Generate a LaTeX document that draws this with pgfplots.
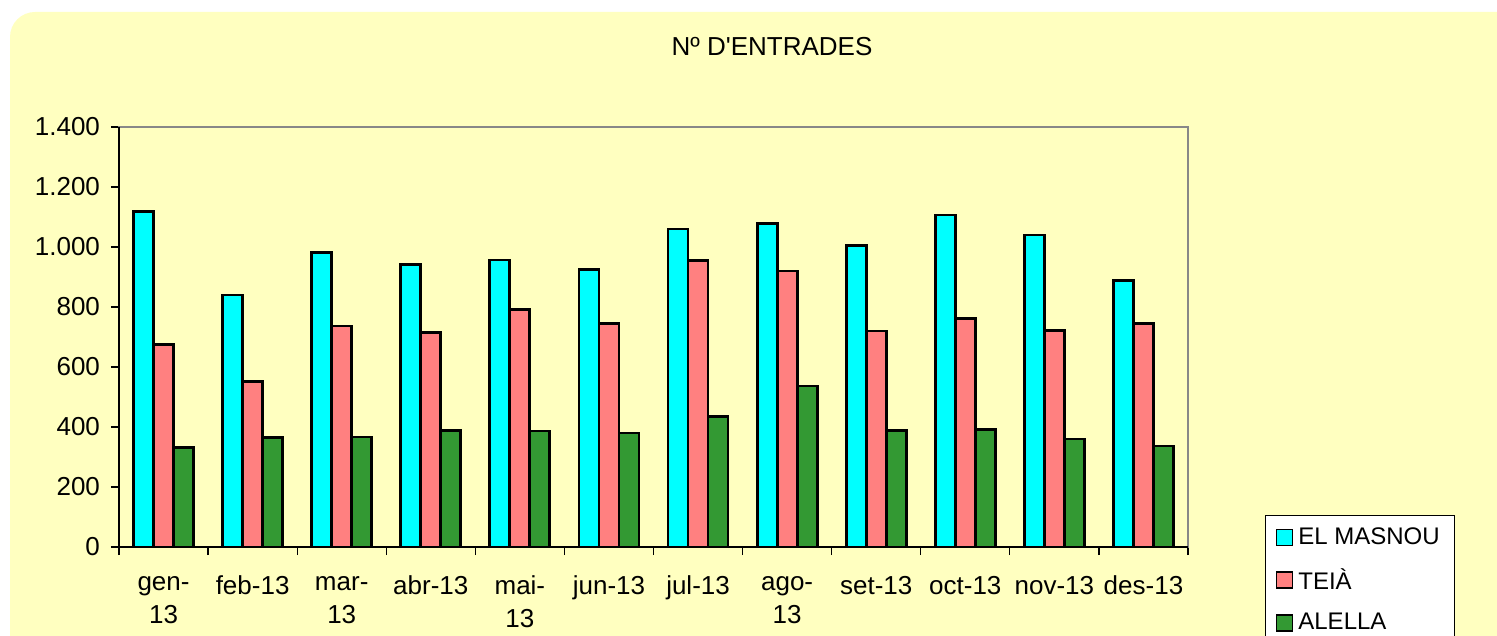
\documentclass[border=0pt]{standalone}
\usepackage{fontspec}
\setmainfont{Liberation Sans}
\usepackage{pgfplots}
\pgfplotsset{compat=1.18}
\definecolor{bgyellow}{RGB}{255,255,192}
\definecolor{cmas}{RGB}{0,255,255}
\definecolor{cteia}{RGB}{255,128,128}
\definecolor{cale}{RGB}{51,153,51}
\definecolor{framegray}{RGB}{136,136,136}
\begin{document}
\begin{tikzpicture}
\begin{scope}[x=0.5pt,y=-0.5pt]
\fill[white] (0,0) rectangle (1497,636);
\begin{scope}
\clip (0,0) rectangle (1497,636);
\fill[bgyellow, rounded corners=12.5pt] (10,12) rectangle (1560,700);
\end{scope}
\node[font=\fontsize{13}{15}\selectfont] at (772,47) {Nº D\textquotesingle ENTRADES};
\end{scope}
\begin{axis}[
  at={(59.5pt,-273.5pt)}, anchor=south west,
  scale only axis, width=534.5pt, height=210pt,
  xmin=-0.5, xmax=11.5, ymin=0, ymax=1400,
  ybar=0pt, bar width=10pt,
  ytick={0,200,...,1400},
  xtick={-0.5,0.5,...,11.5}, xticklabels={},
  extra x ticks={0,1,2,3,4,5,6,7,8,9,10,11},
  extra x tick labels={{gen-\\13},{feb-13},{mar-\\13},{abr-13},{mai-\\13},{jun-13},{jul-13},{ago-\\13},{set-13},{oct-13},{nov-13},{des-13}},
  extra x tick style={major tick length=0pt, grid=none},
  tick align=outside, tick pos=left,
  major tick length=4pt,
  tick style={black, line width=0.6pt},
  axis line style={framegray, line width=0.8pt},
  tick label style={font=\fontsize{13}{16}\selectfont},
  x tick label style={align=center, yshift=-11pt, font=\fontsize{13}{16.5}\selectfont},
  y tick label style={xshift=-2pt},
  /pgf/number format/assume math mode=true,
  yticklabel style={/pgf/number format/1000 sep={.}},
  legend cell align=left,
  legend style={at={(1.072,0.076)}, anchor=north west, draw=black, line width=0.6pt, fill=white,
    font=\fontsize{12}{14}\selectfont, row sep=6.5pt, inner xsep=5pt, inner ysep=4pt,
    nodes={inner xsep=2.5pt}},
  legend image code/.code={\draw[#1, draw=black, line width=0.9pt] (0pt,-4pt) rectangle (8pt,4pt);},
  clip=false,
]
\addplot[fill=cmas, draw=black, line width=1.4pt] coordinates {
 (0,1118) (1,840) (2,981) (3,943) (4,957) (5,926) (6,1060) (7,1078) (8,1005) (9,1107) (10,1040) (11,889)};
\addplot[fill=cteia, draw=black, line width=1.4pt] coordinates {
 (0,676) (1,551) (2,737) (3,716) (4,793) (5,746) (6,956) (7,920) (8,720) (9,761) (10,723) (11,746)};
\addplot[fill=cale, draw=black, line width=1.4pt] coordinates {
 (0,331) (1,366) (2,367) (3,389) (4,387) (5,380) (6,434) (7,537) (8,388) (9,393) (10,360) (11,337)};
\legend{EL MASNOU, TEIÀ, ALELLA}
\draw[black, line width=0.8pt] (rel axis cs:0,1) -- (rel axis cs:0,0) -- (rel axis cs:1,0);
\end{axis}
\pgfresetboundingbox
\path[use as bounding box] (0,0) rectangle (748.5pt,-318pt);
\end{tikzpicture}
\end{document}
